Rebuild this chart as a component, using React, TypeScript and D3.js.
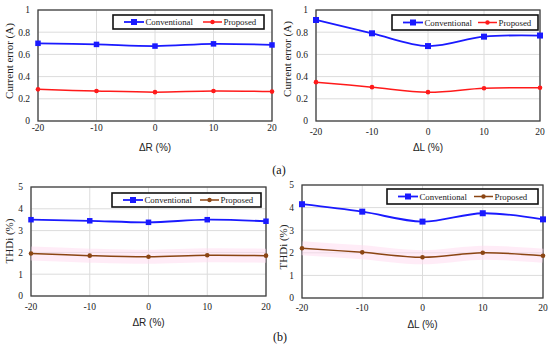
import React from 'react';
import * as d3 from 'd3';

// x positions (% variation) shared by all four panels
const deltas = [-20, -10, 0, 10, 20];

// (a) current error, ΔR sweep
const errRConventional = [0.70, 0.69, 0.675, 0.695, 0.685];
const errRProposed = [0.285, 0.27, 0.26, 0.27, 0.265];
// (a) current error, ΔL sweep
const errLConventional = [0.91, 0.79, 0.675, 0.76, 0.77];
const errLProposed = [0.35, 0.305, 0.26, 0.295, 0.30];
// (b) THDi, ΔR sweep
const thdRConventional = [3.5, 3.45, 3.38, 3.5, 3.43];
const thdRProposed = [1.95, 1.85, 1.8, 1.87, 1.85];
// (b) THDi, ΔL sweep
const thdLConventional = [4.15, 3.82, 3.38, 3.75, 3.48];
const thdLProposed = [2.2, 2.02, 1.8, 2.0, 1.87];

const errTicks = [0, 0.2, 0.4, 0.6, 0.8, 1];
const thdTicks = [0, 1, 2, 3, 4, 5];
const legendNames = ['Conventional', 'Proposed'];

const serif = { fontFamily: "'Liberation Serif', 'DejaVu Serif', serif" };
const sans = { fontFamily: "'Liberation Sans', Arial, sans-serif" };
const BLUE = '#1a1aff';

type PanelProps = {
  left: number; right: number; top: number; bottom: number;
  yMax: number; yTicks: number[];
  conv: number[]; prop: number[];
  propColor: string; propBand?: boolean;
  xSym: string; yLabel: string; yLabelX: number; yLabelY: number; tickY: number; xLabelY: number;
  legend: { x: number; y: number; w: number; h: number; second: number };
  sqSize: number;
};

const Panel = (p: PanelProps) => {
  const x = d3.scaleLinear().domain([-20, 20]).range([p.left, p.right]);
  const y = d3.scaleLinear().domain([0, p.yMax]).range([p.bottom, p.top]);

  const line = d3.line<number>()
    .x((d, i) => x(deltas[i]))
    .y(d => y(d))
    .curve(d3.curveCatmullRom.alpha(0.5));

  const lg = p.legend;
  const ly = lg.y + lg.h / 2;
  const s2 = lg.x + lg.second;

  return (
    <g>
      {/* grid */}
      {p.yTicks.map(t => (
        <line key={'h' + t} x1={p.left} x2={p.right} y1={y(t)} y2={y(t)} stroke="#dcdcdc" strokeWidth={1} />
      ))}
      {deltas.map(t => (
        <line key={'v' + t} x1={x(t)} x2={x(t)} y1={p.top} y2={p.bottom} stroke="#dcdcdc" strokeWidth={1} />
      ))}
      <rect x={p.left} y={p.top} width={p.right - p.left} height={p.bottom - p.top} fill="none" stroke="#404040" strokeWidth={1.3} />

      {/* tick labels */}
      {p.yTicks.map(t => (
        <text key={'yl' + t} x={p.left - 8} y={y(t)} dy="0.35em" textAnchor="end" style={serif} fontSize={9.5} fill="#222">
          {d3.format('~g')(t)}
        </text>
      ))}
      {deltas.map(t => (
        <text key={'xl' + t} x={x(t)} y={p.tickY} dy="0.35em" textAnchor="middle" style={serif} fontSize={9.5} fill="#222">
          {t}
        </text>
      ))}

      {/* axis titles */}
      <text x={(p.left + p.right) / 2} y={p.xLabelY} dy="0.35em" textAnchor="middle" style={sans} fontSize={10} fill="#222">
        {p.xSym + ' (%)'}
      </text>
      <text transform={`translate(${p.yLabelX},${p.yLabelY}) rotate(-90)`} dy="0.35em" textAnchor="middle"
        style={serif} fontSize={11} fill="#222">
        {p.yLabel}
      </text>

      {/* pinkish halo behind the proposed curve */}
      {p.propBand && (
        <path d={line(p.prop) || ''} fill="none" stroke="#ffd9ef" strokeWidth={14} opacity={0.5} />
      )}

      {/* series */}
      <path d={line(p.conv) || ''} fill="none" stroke={BLUE} strokeWidth={1.8} />
      <path d={line(p.prop) || ''} fill="none" stroke={p.propColor} strokeWidth={1.5} />
      {p.conv.map((v, i) => (
        <rect key={'c' + i} x={x(deltas[i]) - p.sqSize / 2} y={y(v) - p.sqSize / 2} width={p.sqSize} height={p.sqSize} fill={BLUE} />
      ))}
      {p.prop.map((v, i) => (
        <circle key={'p' + i} cx={x(deltas[i])} cy={y(v)} r={2.3} fill={p.propColor} />
      ))}

      {/* legend */}
      <rect x={lg.x} y={lg.y} width={lg.w} height={lg.h} fill="#fff" stroke="#111" strokeWidth={1.6} />
      <line x1={lg.x + 11} x2={lg.x + 31} y1={ly} y2={ly} stroke={BLUE} strokeWidth={1.8} />
      <rect x={lg.x + 21 - 3} y={ly - 3} width={6} height={6} fill={BLUE} />
      <text x={lg.x + 32.5} y={ly} dy="0.35em" style={serif} fontSize={8.8} fill="#222">{legendNames[0]}</text>
      <line x1={s2} x2={s2 + 19} y1={ly} y2={ly} stroke={p.propColor} strokeWidth={1.5} />
      <circle cx={s2 + 9.5} cy={ly} r={2.2} fill={p.propColor} />
      <text x={s2 + 20.5} y={ly} dy="0.35em" style={serif} fontSize={8.8} fill="#222">{legendNames[1]}</text>
    </g>
  );
};

export default function App() {
  return (
    <svg width={550} height={348} style={{ position: 'absolute', left: 0, top: 0, background: '#fff' }}>
      <Panel left={38} right={272} top={10} bottom={121} yMax={1} yTicks={errTicks}
        conv={errRConventional} prop={errRProposed} propColor="#ff1a1a"
        xSym="ΔR" yLabel="Current error (A)" yLabelX={9.5} yLabelY={61} tickY={128} xLabelY={147}
        legend={{ x: 113, y: 15, w: 151, h: 14, second: 90 }} sqSize={5.5} />
      <Panel left={316} right={540} top={10} bottom={121} yMax={1} yTicks={errTicks}
        conv={errLConventional} prop={errLProposed} propColor="#ff1a1a"
        xSym="ΔL" yLabel="Current error (A)" yLabelX={287} yLabelY={59} tickY={132} xLabelY={147}
        legend={{ x: 392, y: 15, w: 146, h: 15, second: 86 }} sqSize={6} />
      <Panel left={31} right={266} top={187} bottom={296} yMax={5} yTicks={thdTicks}
        conv={thdRConventional} prop={thdRProposed} propColor="#8b4513" propBand
        xSym="ΔR" yLabel="THDi (%)" yLabelX={9} yLabelY={241} tickY={307} xLabelY={322}
        legend={{ x: 112, y: 193, w: 149, h: 14, second: 88 }} sqSize={5.5} />
      <Panel left={302} right={543} top={185} bottom={298} yMax={5} yTicks={thdTicks}
        conv={thdLConventional} prop={thdLProposed} propColor="#8b4513" propBand
        xSym="ΔL" yLabel="THDi (%)" yLabelX={283} yLabelY={247} tickY={308} xLabelY={324}
        legend={{ x: 387, y: 189, w: 151, h: 15, second: 87 }} sqSize={6} />
      <text x={279} y={174} textAnchor="middle" style={serif} fontSize={12} fill="#111">(a)</text>
      <text x={280} y={341} textAnchor="middle" style={serif} fontSize={12} fill="#111">(b)</text>
    </svg>
  );
}
